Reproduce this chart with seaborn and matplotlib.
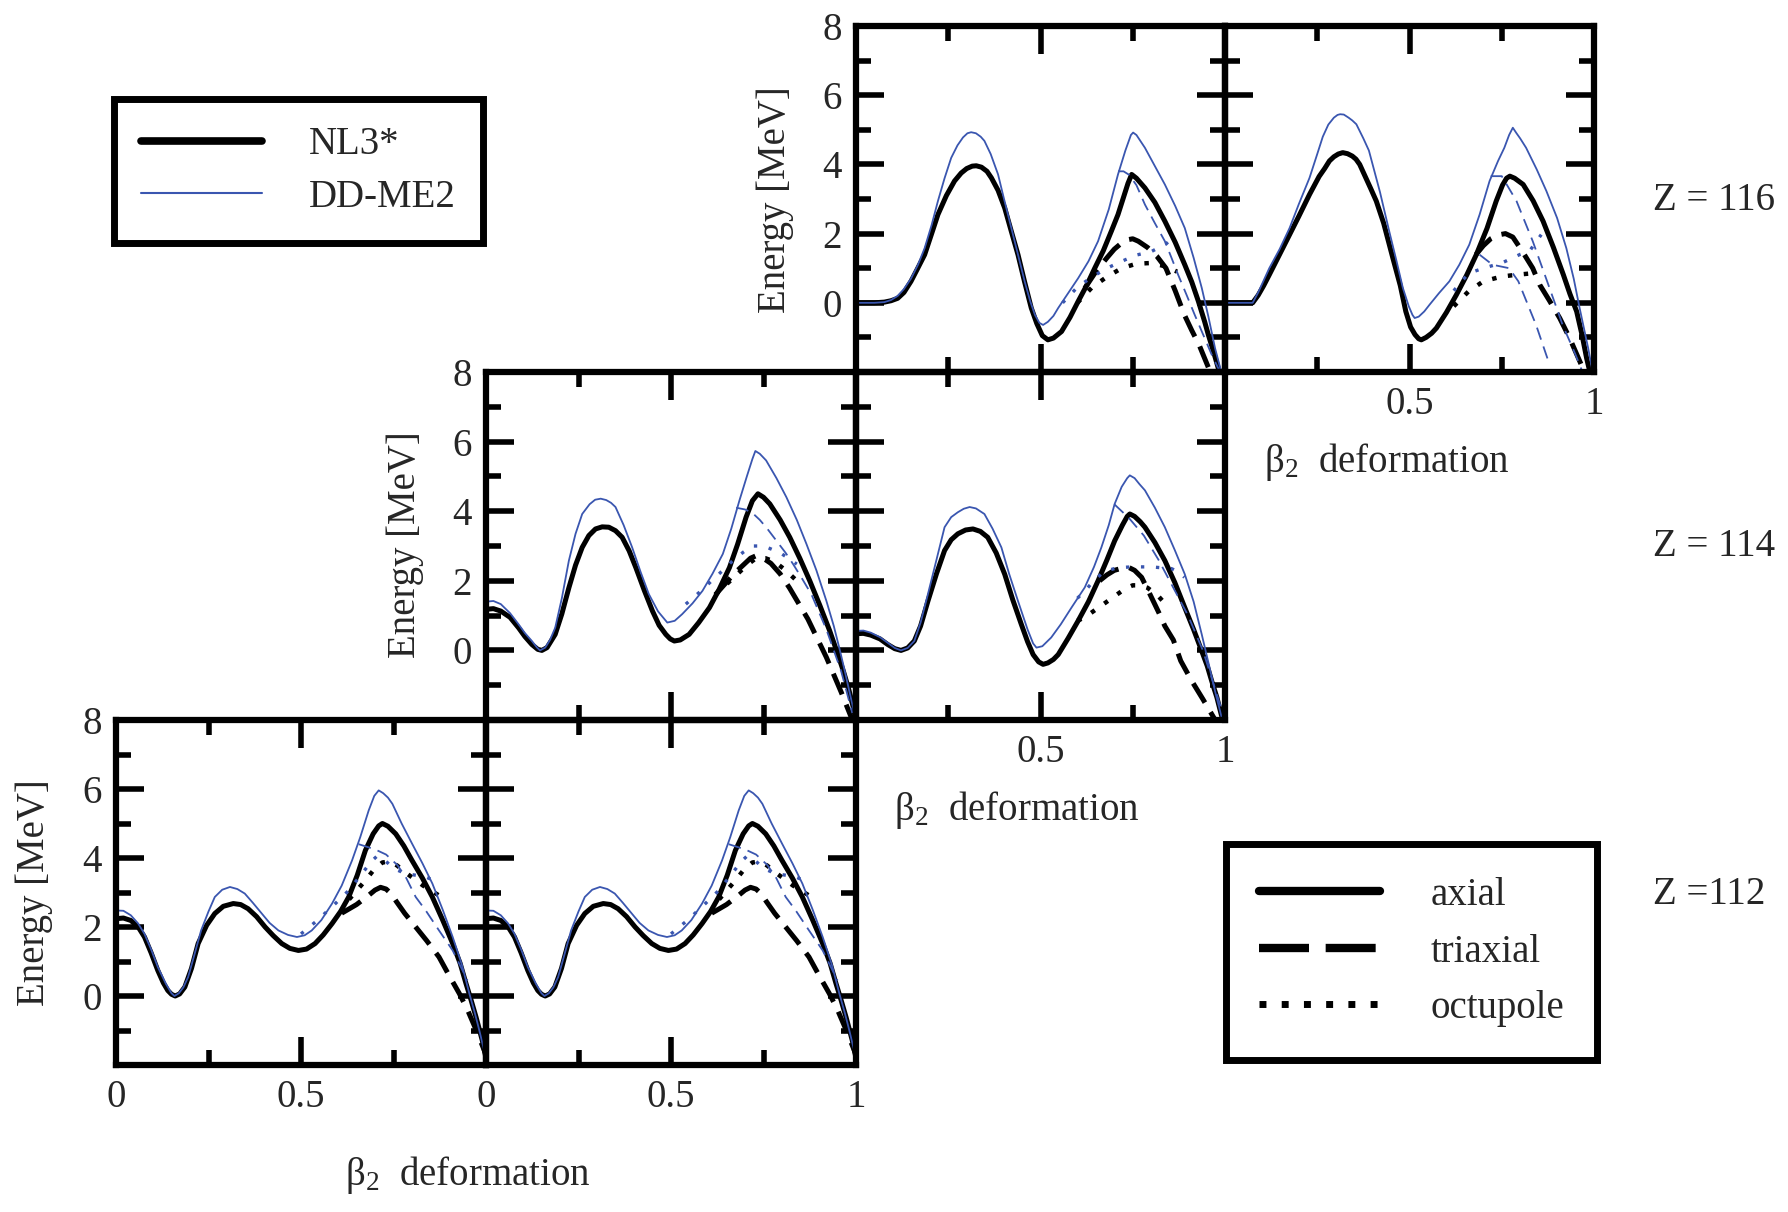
import numpy as np
import pandas as pd
import matplotlib
matplotlib.use("Agg")
import matplotlib.pyplot as plt
import seaborn as sns
from matplotlib.lines import Line2D

# ---------------- data (beta_2 deformation, energy in MeV) ----------------
# Z = 116, left panel
Z116L_NL3_AX_B = [0, 0.05, 0.077, 0.095, 0.113, 0.13, 0.149, 0.165, 0.186, 0.205, 0.222, 0.245, 0.267, 0.285, 0.30, 0.315, 0.326, 0.34, 0.355, 0.367, 0.385, 0.403, 0.42, 0.439, 0.457, 0.475, 0.49, 0.505, 0.52, 0.535, 0.557, 0.58, 0.602, 0.625, 0.647, 0.67, 0.692, 0.71, 0.725, 0.737, 0.747, 0.76, 0.783, 0.81, 0.837, 0.865, 0.891, 0.91, 0.928, 0.945, 0.955, 0.97, 0.982, 1.0]
Z116L_NL3_AX_E = [0, 0, 0.02, 0.06, 0.13, 0.3, 0.62, 0.95, 1.39, 2.0, 2.55, 3.1, 3.52, 3.75, 3.88, 3.95, 3.96, 3.92, 3.8, 3.61, 3.25, 2.74, 2.1, 1.39, 0.6, -0.15, -0.6, -0.95, -1.07, -1.02, -0.83, -0.42, 0.04, 0.5, 1.0, 1.5, 2.07, 2.55, 3.05, 3.45, 3.71, 3.6, 3.32, 2.9, 2.36, 1.75, 1.10, 0.6, 0.04, -0.55, -0.93, -1.45, -1.9, -2.5]
Z116L_DD_AX_B = [0, 0.05, 0.077, 0.095, 0.113, 0.13, 0.149, 0.168, 0.186, 0.205, 0.222, 0.24, 0.258, 0.275, 0.29, 0.302, 0.312, 0.325, 0.338, 0.348, 0.365, 0.385, 0.40, 0.421, 0.44, 0.457, 0.472, 0.485, 0.497, 0.507, 0.52, 0.535, 0.548, 0.575, 0.602, 0.63, 0.656, 0.685, 0.71, 0.73, 0.745, 0.751, 0.76, 0.783, 0.81, 0.837, 0.865, 0.891, 0.915, 0.937, 0.955, 0.973, 0.99, 1.0]
Z116L_DD_AX_E = [0, 0, 0.02, 0.08, 0.2, 0.4, 0.7, 1.1, 1.58, 2.25, 2.94, 3.6, 4.19, 4.55, 4.78, 4.9, 4.93, 4.9, 4.8, 4.68, 4.3, 3.71, 3.05, 2.16, 1.35, 0.62, 0.05, -0.35, -0.58, -0.64, -0.55, -0.38, -0.15, 0.28, 0.71, 1.2, 1.78, 2.7, 3.71, 4.4, 4.85, 4.92, 4.85, 4.48, 3.95, 3.42, 2.8, 2.16, 1.3, 0.43, -0.4, -1.31, -2.0, -2.5]
Z116L_NL3_TRI_B = [0.62, 0.65, 0.68, 0.70, 0.72, 0.735, 0.75, 0.765, 0.79, 0.815, 0.84, 0.865, 0.89, 0.91, 0.93, 0.96, 0.98]
Z116L_NL3_TRI_E = [0.42, 0.9, 1.3, 1.55, 1.73, 1.82, 1.85, 1.78, 1.6, 1.35, 1.0, 0.35, -0.35, -0.8, -1.22, -2.0, -2.5]
Z116L_NL3_OCT_B = [0.60, 0.64, 0.68, 0.72, 0.76, 0.80, 0.84, 0.87]
Z116L_NL3_OCT_E = [0.0, 0.45, 0.75, 1.0, 1.13, 1.15, 1.05, 0.9]
Z116L_DD_TRI_B = [0.71, 0.725, 0.74, 0.76, 0.783, 0.81, 0.837, 0.855, 0.873, 0.895, 0.918, 0.94, 0.964, 1.0]
Z116L_DD_TRI_E = [3.8, 3.8, 3.7, 3.4, 2.84, 2.3, 1.78, 1.3, 0.81, 0.25, -0.35, -0.9, -1.5, -2.3]
Z116L_DD_OCT_B = [0.56, 0.60, 0.64, 0.68, 0.72, 0.76, 0.80, 0.84, 0.86]
Z116L_DD_OCT_E = [0.0, 0.45, 0.75, 1.0, 1.2, 1.38, 1.48, 1.7, 1.9]

# Z = 116, right panel
Z116R_NL3_AX_B = [0, 0.05, 0.075, 0.09, 0.105, 0.12, 0.148, 0.175, 0.2, 0.229, 0.255, 0.27, 0.283, 0.295, 0.307, 0.319, 0.332, 0.345, 0.355, 0.365, 0.38, 0.395, 0.41, 0.43, 0.455, 0.475, 0.49, 0.503, 0.515, 0.525, 0.532, 0.545, 0.56, 0.573, 0.60, 0.627, 0.655, 0.681, 0.71, 0.735, 0.752, 0.763, 0.772, 0.785, 0.808, 0.835, 0.862, 0.89, 0.917, 0.935, 0.953, 0.968, 0.98, 1.0]
Z116R_NL3_AX_E = [0, 0, 0, 0.22, 0.5, 0.81, 1.4, 1.97, 2.5, 3.13, 3.65, 3.88, 4.1, 4.22, 4.3, 4.34, 4.31, 4.24, 4.15, 4.0, 3.65, 3.3, 2.94, 2.3, 1.29, 0.5, -0.25, -0.7, -0.92, -1.04, -1.07, -1.0, -0.88, -0.73, -0.28, 0.23, 0.8, 1.39, 2.15, 2.94, 3.4, 3.6, 3.66, 3.6, 3.42, 2.95, 2.36, 1.6, 0.81, 0.25, -0.25, -0.95, -1.6, -2.5]
Z116R_DD_AX_B = [0, 0.075, 0.09, 0.105, 0.12, 0.148, 0.175, 0.2, 0.229, 0.25, 0.265, 0.28, 0.295, 0.305, 0.312, 0.322, 0.335, 0.345, 0.356, 0.375, 0.39, 0.40, 0.42, 0.445, 0.465, 0.482, 0.498, 0.508, 0.514, 0.525, 0.54, 0.554, 0.58, 0.608, 0.635, 0.662, 0.69, 0.717, 0.74, 0.757, 0.77, 0.78, 0.79, 0.80, 0.816, 0.845, 0.871, 0.90, 0.925, 0.945, 0.961, 0.975, 0.984, 1.0]
Z116R_DD_AX_E = [0, 0, 0.3, 0.65, 1.0, 1.55, 2.16, 2.85, 3.61, 4.3, 4.8, 5.15, 5.35, 5.43, 5.45, 5.44, 5.35, 5.27, 5.16, 4.75, 4.4, 4.0, 3.2, 2.07, 1.2, 0.43, -0.1, -0.35, -0.44, -0.4, -0.25, -0.06, 0.28, 0.62, 1.1, 1.68, 2.55, 3.52, 4.1, 4.48, 4.85, 5.06, 4.9, 4.75, 4.48, 3.85, 3.23, 2.45, 1.58, 0.7, -0.15, -0.85, -1.3, -2.2]
Z116R_NL3_TRI_B = [0.68, 0.70, 0.72, 0.74, 0.76, 0.78, 0.805, 0.834, 0.853, 0.88, 0.907, 0.934, 0.97, 1.0]
Z116R_NL3_TRI_E = [1.39, 1.65, 1.85, 1.96, 2.0, 1.9, 1.5, 1.0, 0.52, 0.05, -0.44, -1.02, -1.9, -2.6]
Z116R_NL3_OCT_B = [0.62, 0.66, 0.70, 0.75, 0.79, 0.83]
Z116R_NL3_OCT_E = [-0.1, 0.33, 0.62, 0.76, 0.81, 0.85]
Z116R_DD_TRI_B = [0.72, 0.75, 0.79, 0.834, 0.87, 0.915, 0.95, 0.98]
Z116R_DD_TRI_E = [3.66, 3.66, 2.94, 1.78, 0.71, -0.64, -1.5, -2.3]
Z116R_DD_TRI2_B = [0.69, 0.725, 0.77, 0.795, 0.843, 0.88]
Z116R_DD_TRI2_E = [1.39, 1.10, 1.0, 0.62, -0.64, -1.8]
Z116R_DD_OCT_B = [0.62, 0.66, 0.70, 0.75, 0.80, 0.825, 0.857]
Z116R_DD_OCT_E = [0.35, 0.85, 1.0, 1.15, 1.4, 1.49, 1.97]

# Z = 114, left panel
Z114L_NL3_AX_B = [0, 0.02, 0.04, 0.065, 0.088, 0.105, 0.124, 0.14, 0.151, 0.165, 0.187, 0.205, 0.224, 0.242, 0.26, 0.278, 0.296, 0.314, 0.332, 0.35, 0.368, 0.387, 0.405, 0.428, 0.45, 0.468, 0.486, 0.498, 0.509, 0.525, 0.549, 0.575, 0.604, 0.63, 0.658, 0.68, 0.703, 0.72, 0.735, 0.75, 0.767, 0.795, 0.821, 0.848, 0.875, 0.902, 0.929, 0.948, 0.966, 0.98, 0.993, 1.0]
Z114L_NL3_AX_E = [1.18, 1.2, 1.13, 0.95, 0.65, 0.4, 0.17, 0.03, 0.0, 0.08, 0.46, 1.05, 1.8, 2.45, 2.96, 3.3, 3.49, 3.55, 3.54, 3.44, 3.25, 2.86, 2.38, 1.72, 1.13, 0.72, 0.46, 0.33, 0.27, 0.3, 0.46, 0.8, 1.23, 1.75, 2.38, 3.05, 3.83, 4.3, 4.5, 4.4, 4.21, 3.75, 3.25, 2.65, 2.0, 1.3, 0.56, -0.02, -0.6, -1.1, -1.65, -2.0]
Z114L_DD_AX_B = [0, 0.02, 0.04, 0.065, 0.088, 0.105, 0.124, 0.138, 0.146, 0.16, 0.173, 0.187, 0.205, 0.224, 0.242, 0.26, 0.28, 0.295, 0.31, 0.325, 0.338, 0.35, 0.372, 0.395, 0.418, 0.44, 0.465, 0.49, 0.51, 0.53, 0.558, 0.585, 0.612, 0.64, 0.663, 0.685, 0.705, 0.72, 0.728, 0.74, 0.757, 0.785, 0.812, 0.84, 0.866, 0.893, 0.92, 0.94, 0.957, 0.972, 0.984, 1.0]
Z114L_DD_AX_E = [1.4, 1.42, 1.33, 1.07, 0.75, 0.5, 0.27, 0.08, 0.0, 0.08, 0.3, 0.65, 1.5, 2.58, 3.35, 3.92, 4.2, 4.33, 4.36, 4.32, 4.24, 4.12, 3.6, 2.96, 2.25, 1.62, 1.12, 0.8, 0.85, 1.04, 1.35, 1.71, 2.2, 2.77, 3.5, 4.31, 5.0, 5.5, 5.73, 5.65, 5.46, 4.95, 4.4, 3.75, 3.06, 2.3, 1.42, 0.7, -0.02, -0.7, -1.27, -2.0]
Z114L_NL3_TRI_B = [0.62, 0.645, 0.67, 0.70, 0.715, 0.73, 0.745, 0.77, 0.795, 0.82, 0.845, 0.87, 0.895, 0.92, 0.94, 0.96, 0.99]
Z114L_NL3_TRI_E = [1.6, 1.9, 2.2, 2.5, 2.65, 2.72, 2.68, 2.5, 2.2, 1.8, 1.35, 0.9, 0.35, -0.2, -0.7, -1.2, -2.0]
Z114L_NL3_OCT_B = [0.62, 0.65, 0.68, 0.705, 0.73, 0.755, 0.78, 0.81, 0.84]
Z114L_NL3_OCT_E = [1.6, 1.9, 2.2, 2.45, 2.65, 2.65, 2.55, 2.3, 2.0]
Z114L_DD_TRI_B = [0.676, 0.70, 0.72, 0.74, 0.76, 0.785, 0.81, 0.83, 0.855, 0.88, 0.90, 0.92, 0.94, 0.96, 0.99]
Z114L_DD_TRI_E = [4.1, 4.05, 3.95, 3.75, 3.5, 3.15, 2.8, 2.48, 2.05, 1.6, 1.1, 0.6, 0.0, -0.6, -1.8]
Z114L_DD_OCT_B = [0.54, 0.58, 0.62, 0.645, 0.667, 0.695, 0.72, 0.74, 0.76, 0.78, 0.80, 0.84]
Z114L_DD_OCT_E = [1.33, 1.7, 2.1, 2.35, 2.58, 2.82, 3.0, 3.0, 2.96, 2.87, 2.77, 2.48]

# Z = 114, right panel
Z114R_NL3_AX_B = [0, 0.02, 0.04, 0.065, 0.086, 0.105, 0.122, 0.14, 0.158, 0.175, 0.195, 0.218, 0.24, 0.258, 0.276, 0.297, 0.317, 0.337, 0.357, 0.38, 0.403, 0.425, 0.448, 0.465, 0.48, 0.495, 0.507, 0.52, 0.535, 0.548, 0.575, 0.602, 0.63, 0.656, 0.68, 0.701, 0.722, 0.735, 0.742, 0.755, 0.77, 0.783, 0.81, 0.837, 0.864, 0.891, 0.915, 0.937, 0.952, 0.964, 0.978, 0.99, 1.0]
Z114R_NL3_AX_E = [0.48, 0.49, 0.44, 0.33, 0.17, 0.05, 0.0, 0.07, 0.27, 0.7, 1.42, 2.2, 2.87, 3.18, 3.35, 3.46, 3.49, 3.42, 3.25, 2.8, 2.19, 1.45, 0.75, 0.25, -0.12, -0.33, -0.4, -0.36, -0.26, -0.12, 0.35, 0.85, 1.4, 2.0, 2.6, 3.15, 3.6, 3.85, 3.92, 3.85, 3.7, 3.54, 3.1, 2.58, 1.95, 1.23, 0.6, -0.02, -0.45, -0.88, -1.35, -1.85, -2.2]
Z114R_DD_AX_B = [0, 0.02, 0.04, 0.065, 0.086, 0.105, 0.122, 0.14, 0.158, 0.175, 0.195, 0.218, 0.24, 0.258, 0.276, 0.292, 0.308, 0.325, 0.348, 0.37, 0.394, 0.415, 0.439, 0.465, 0.48, 0.489, 0.505, 0.529, 0.555, 0.584, 0.62, 0.645, 0.665, 0.685, 0.701, 0.72, 0.735, 0.742, 0.755, 0.768, 0.783, 0.81, 0.837, 0.864, 0.891, 0.915, 0.937, 0.955, 0.973, 1.0]
Z114R_DD_AX_E = [0.56, 0.57, 0.51, 0.38, 0.22, 0.07, 0.0, 0.07, 0.27, 0.8, 1.62, 2.6, 3.54, 3.83, 3.97, 4.07, 4.12, 4.08, 3.92, 3.5, 2.96, 2.2, 1.42, 0.6, 0.2, 0.08, 0.12, 0.37, 0.75, 1.23, 1.81, 2.4, 2.96, 3.6, 4.21, 4.7, 4.95, 5.03, 4.95, 4.78, 4.6, 4.1, 3.54, 2.88, 2.19, 1.4, 0.46, -0.35, -1.17, -2.3]
Z114R_NL3_TRI_B = [0.66, 0.68, 0.70, 0.72, 0.74, 0.755, 0.774, 0.795, 0.82, 0.837, 0.86, 0.88, 0.91, 0.94, 0.97, 1.0]
Z114R_NL3_TRI_E = [2.0, 2.17, 2.3, 2.36, 2.38, 2.3, 2.1, 1.65, 1.1, 0.7, 0.3, -0.3, -0.88, -1.4, -1.94, -2.5]
Z114R_NL3_OCT_B = [0.60, 0.62, 0.66, 0.70, 0.73, 0.75, 0.77, 0.79, 0.82, 0.85]
Z114R_NL3_OCT_E = [0.85, 0.95, 1.25, 1.55, 1.78, 1.87, 1.87, 1.8, 1.55, 1.2]
Z114R_DD_TRI_B = [0.70, 0.74, 0.78, 0.82, 0.86, 0.90, 0.94, 0.97, 1.0]
Z114R_DD_TRI_E = [4.2, 3.8, 3.3, 2.6, 1.8, 1.0, 0.0, -1.0, -2.0]
Z114R_DD_OCT_B = [0.60, 0.62, 0.64, 0.665, 0.69, 0.71, 0.75, 0.80, 0.855, 0.875, 0.89]
Z114R_DD_OCT_E = [1.5, 1.7, 1.95, 2.2, 2.32, 2.38, 2.4, 2.4, 2.35, 2.25, 2.1]

# Z = 112 (both panels)
Z112_NL3_AX_B = [0, 0.02, 0.04, 0.06, 0.077, 0.095, 0.113, 0.128, 0.14, 0.15, 0.16, 0.172, 0.186, 0.204, 0.222, 0.245, 0.267, 0.29, 0.317, 0.337, 0.357, 0.38, 0.403, 0.425, 0.448, 0.47, 0.493, 0.515, 0.538, 0.56, 0.584, 0.607, 0.629, 0.652, 0.674, 0.695, 0.71, 0.72, 0.735, 0.756, 0.778, 0.80, 0.828, 0.855, 0.883, 0.91, 0.93, 0.946, 0.96, 0.973, 0.99, 1.0]
Z112_NL3_AX_E = [2.24, 2.26, 2.19, 2.0, 1.71, 1.25, 0.74, 0.38, 0.16, 0.05, 0.0, 0.06, 0.26, 0.8, 1.52, 2.05, 2.39, 2.6, 2.68, 2.65, 2.53, 2.3, 2.0, 1.75, 1.52, 1.38, 1.32, 1.36, 1.52, 1.77, 2.1, 2.45, 2.87, 3.5, 4.22, 4.7, 4.93, 5.0, 4.92, 4.7, 4.35, 3.93, 3.42, 2.87, 2.2, 1.52, 0.95, 0.36, -0.13, -0.61, -1.29, -1.8]
Z112_DD_AX_B = [0, 0.02, 0.04, 0.06, 0.077, 0.095, 0.113, 0.135, 0.15, 0.158, 0.17, 0.182, 0.195, 0.212, 0.23, 0.25, 0.267, 0.287, 0.308, 0.328, 0.348, 0.37, 0.394, 0.415, 0.439, 0.465, 0.489, 0.51, 0.529, 0.555, 0.584, 0.61, 0.638, 0.66, 0.683, 0.698, 0.71, 0.722, 0.735, 0.747, 0.772, 0.80, 0.828, 0.855, 0.883, 0.91, 0.935, 0.955, 0.97, 0.982, 1.0]
Z112_DD_AX_E = [2.48, 2.47, 2.34, 2.1, 1.8, 1.35, 0.84, 0.35, 0.08, 0.0, 0.08, 0.25, 0.55, 1.2, 1.9, 2.45, 2.87, 3.08, 3.16, 3.1, 2.97, 2.7, 2.39, 2.12, 1.9, 1.77, 1.71, 1.76, 1.9, 2.2, 2.68, 3.2, 3.93, 4.6, 5.38, 5.8, 5.96, 5.88, 5.75, 5.57, 5.0, 4.42, 3.85, 3.26, 2.5, 1.71, 0.9, 0.07, -0.5, -1.0, -1.8]
Z112_NL3_TRI_B = [0.61, 0.65, 0.683, 0.70, 0.715, 0.73, 0.745, 0.757, 0.78, 0.81, 0.84, 0.873, 0.90, 0.928, 0.95, 0.97, 1.0]
Z112_NL3_TRI_E = [2.4, 2.65, 2.92, 3.07, 3.15, 3.1, 2.95, 2.75, 2.4, 2.0, 1.6, 1.13, 0.6, 0.07, -0.4, -0.9, -1.7]
Z112_NL3_OCT_B = [0.63, 0.67, 0.70, 0.72, 0.74, 0.76, 0.78, 0.805, 0.83, 0.86, 0.89]
Z112_NL3_OCT_E = [2.8, 3.3, 3.7, 3.87, 3.9, 3.78, 3.6, 3.4, 3.2, 3.0, 2.8]
Z112_DD_TRI_B = [0.656, 0.70, 0.73, 0.76, 0.783, 0.81, 0.837, 0.873, 0.91, 0.95]
Z112_DD_TRI_E = [4.4, 4.25, 4.1, 3.8, 3.45, 2.87, 2.48, 1.9, 1.32, 0.45]
Z112_DD_OCT_B = [0.50, 0.545, 0.593, 0.629, 0.665, 0.69, 0.705, 0.72, 0.74, 0.76, 0.783, 0.81, 0.837, 0.87]
Z112_DD_OCT_E = [1.8, 2.2, 2.68, 3.06, 3.55, 3.9, 4.05, 4.0, 3.8, 3.65, 3.55, 3.5, 3.45, 3.3]

X_MAJOR = [0, 0.5, 1]
X_MINOR = [0.25, 0.75]
Y_MAJOR = [0, 2, 4, 6, 8]
Y_MINOR = [-1, 1, 3, 5, 7]
Z_LABELS = ["Z = 116", "Z = 114", "Z =112"]
FORCE_LABELS = ["NL3*", "DD-ME2"]
SHAPE_LABELS = ["axial", "triaxial", "octupole"]

# ---------------- styles ----------------
BLUE = "#3a56b0"
STY = {
    "NL3_AX":  dict(color="black", linewidth=3.6, linestyle="-"),
    "NL3_TRI": dict(color="black", linewidth=3.6, linestyle=(0, (4.5, 2.2))),
    "NL3_OCT": dict(color="black", linewidth=3.2, linestyle=(0, (1, 2.6))),
    "DD_AX":   dict(color=BLUE, linewidth=1.3, linestyle="-"),
    "DD_TRI":  dict(color=BLUE, linewidth=1.3, linestyle=(0, (7, 4))),
    "DD_OCT":  dict(color=BLUE, linewidth=2.4, linestyle=(0, (1, 3.5))),
}

sns.set_theme(style="white")
plt.rcParams["font.family"] = ["Liberation Serif", "DejaVu Serif"]
plt.rcParams["mathtext.fontset"] = "custom"
plt.rcParams["mathtext.rm"] = "Liberation Serif"
plt.rcParams["mathtext.it"] = "Liberation Serif:italic"
FS = 28

W, H = 1788, 1212
fig = plt.figure(figsize=(W / 100, H / 100), dpi=100)
fig.patch.set_facecolor("white")

COLS = [116, 486, 856, 1225, 1594]
ROWS = {"top": (26, 372), "mid": (372, 720), "bot": (720, 1065)}


def add_ax(ci, row):
    x0, x1 = COLS[ci], COLS[ci + 1]
    y0, y1 = ROWS[row]
    return fig.add_axes([x0 / W, 1 - y1 / H, (x1 - x0) / W, (y1 - y0) / H])


def curves(prefix, extra=()):
    g = globals()
    out = []
    for key in ["NL3_AX", "NL3_TRI", "NL3_OCT", "DD_AX", "DD_TRI", "DD_OCT"]:
        out.append((key, g[f"{prefix}_{key}_B"], g[f"{prefix}_{key}_E"]))
    for key, style in extra:
        out.append((style, g[f"{prefix}_{key}_B"], g[f"{prefix}_{key}_E"]))
    return out


PANELS = [
    # prefix, col, row, ylabels, xlabels, extra curves
    ("Z116L", 2, "top", True, None, ()),
    ("Z116R", 3, "top", False, ["", "0.5", "1"], (("DD_TRI2", "DD_TRI"),)),
    ("Z114L", 1, "mid", True, None, ()),
    ("Z114R", 2, "mid", False, ["", "0.5", "1"], ()),
    ("Z112", 0, "bot", True, ["0", "0.5", ""], ()),
    ("Z112", 1, "bot", False, ["0", "0.5", "1"], ()),
]

for prefix, ci, row, ylab, xlab, extra in PANELS:
    ax = add_ax(ci, row)
    ax.set_facecolor("none")
    for key, b, e in curves(prefix, extra):
        df = pd.DataFrame({"beta": b, "E": e})
        sns.lineplot(data=df, x="beta", y="E", ax=ax, sort=False, estimator=None,
                     legend=False, solid_joinstyle="round", solid_capstyle="round",
                     **STY[key])
    ax.set_xlim(0, 1)
    ax.set_ylim(-2, 8)
    ax.set_xlabel("")
    ax.set_ylabel("")
    ax.set_xticks(X_MAJOR)
    ax.set_xticks(X_MINOR, minor=True)
    ax.set_yticks(Y_MAJOR)
    ax.set_yticks(Y_MINOR, minor=True)
    ax.tick_params(which="both", direction="in", top=True, right=True, bottom=True, left=True,
                   width=4, color="black", labelsize=FS, pad=10)
    ax.tick_params(which="major", length=20)
    ax.tick_params(which="minor", length=11)
    if ylab:
        ax.set_yticklabels([str(v) for v in Y_MAJOR])
    else:
        ax.set_yticklabels([])
    if xlab is None:
        ax.set_xticklabels([])
    else:
        ax.set_xticklabels(xlab)
    for sp in ax.spines.values():
        sp.set_linewidth(4.5)
        sp.set_color("black")
        sp.set_visible(True)
    ax.grid(False)

# axis titles
for (x, y) in [(775, 200), (405, 545), (34, 893)]:
    fig.text(x / W, 1 - y / H, "Energy [MeV]", rotation=90, ha="center", va="center", fontsize=FS)
for (x, y) in [(1387, 462), (1017, 810), (468, 1175)]:
    fig.text(x / W, 1 - y / H, r"$\mathregular{\beta_{2}}$  deformation", ha="center", va="center", fontsize=FS)
for lab, y in zip(Z_LABELS, [200, 547, 895]):
    fig.text(1653 / W, 1 - y / H, lab, ha="left", va="center", fontsize=FS)

# legends
h1 = [Line2D([], [], color="black", lw=5.5), Line2D([], [], color=BLUE, lw=1.5)]
leg1 = fig.legend(h1, FORCE_LABELS, loc="upper left", bbox_to_anchor=(114 / W, 1 - 99 / H),
                  fontsize=FS, frameon=True, fancybox=False, edgecolor="black", framealpha=1,
                  handlelength=3.1, handletextpad=1.2, borderpad=0.7, labelspacing=0.4,
                  borderaxespad=0)
leg1.get_frame().set_linewidth(5)

h2 = [Line2D([], [], color="black", lw=6),
      Line2D([], [], color="black", lw=6, linestyle=(0, (6, 2))),
      Line2D([], [], color="black", lw=5, linestyle=(0, (1, 2.2)))]
leg2 = fig.legend(h2, SHAPE_LABELS, loc="upper left", bbox_to_anchor=(1226 / W, 1 - 844 / H),
                  fontsize=FS, frameon=True, fancybox=False, edgecolor="black", framealpha=1,
                  handlelength=3.1, handletextpad=1.3, borderpad=0.85, labelspacing=0.5,
                  borderaxespad=0)
leg2.get_frame().set_linewidth(5)

fig.savefig("out.png", dpi=100, facecolor="white")
